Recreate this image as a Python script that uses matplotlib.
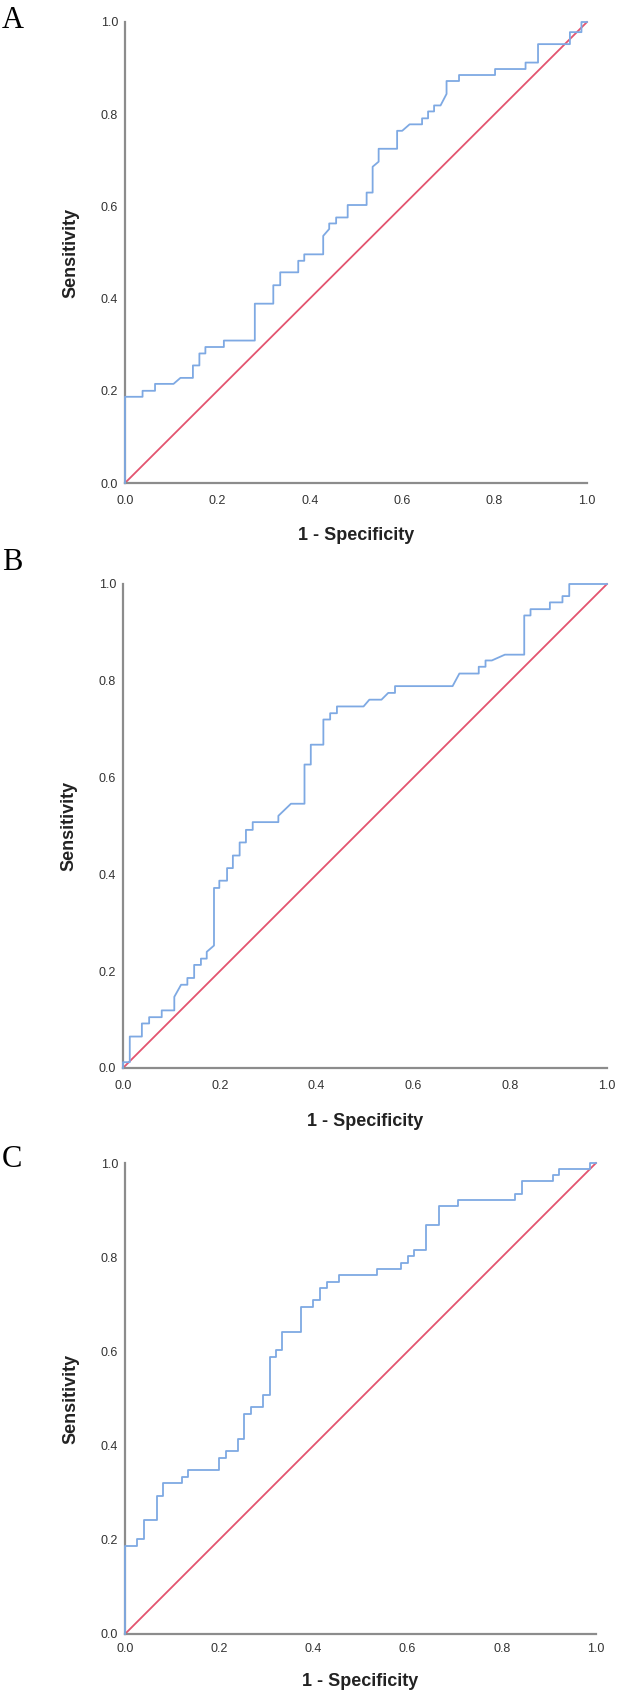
import matplotlib
matplotlib.use("Agg")
import matplotlib.pyplot as plt

# ROC curve vertices (1 - specificity, sensitivity)
fpr_a = [0, 0, 0.038, 0.038, 0.065, 0.065, 0.105, 0.12, 0.147, 0.147, 0.161, 0.161,
         0.174, 0.174, 0.214, 0.214, 0.281, 0.281, 0.321, 0.321, 0.336, 0.336, 0.375,
         0.375, 0.388, 0.388, 0.429, 0.429, 0.442, 0.442, 0.457, 0.457, 0.482, 0.482,
         0.523, 0.523, 0.536, 0.536, 0.549, 0.549, 0.589, 0.589, 0.60, 0.616, 0.643,
         0.643, 0.656, 0.656, 0.669, 0.669, 0.683, 0.696, 0.696, 0.723, 0.723, 0.801,
         0.801, 0.867, 0.867, 0.894, 0.894, 0.963, 0.963, 0.988, 0.988, 1.0]
tpr_a = [0, 0.187, 0.187, 0.20, 0.20, 0.215, 0.215, 0.228, 0.228, 0.255, 0.255, 0.281,
         0.281, 0.295, 0.295, 0.309, 0.309, 0.389, 0.389, 0.429, 0.429, 0.457, 0.457,
         0.482, 0.482, 0.496, 0.496, 0.536, 0.551, 0.563, 0.563, 0.576, 0.576, 0.603,
         0.603, 0.630, 0.630, 0.686, 0.697, 0.725, 0.725, 0.764, 0.764, 0.778, 0.778,
         0.791, 0.791, 0.806, 0.806, 0.819, 0.819, 0.844, 0.872, 0.872, 0.885, 0.885,
         0.898, 0.898, 0.912, 0.912, 0.952, 0.952, 0.978, 0.978, 1.0, 1.0]

fpr_b = [0, 0, 0.014, 0.014, 0.039, 0.039, 0.054, 0.054, 0.080, 0.080, 0.106, 0.106,
         0.120, 0.133, 0.133, 0.147, 0.147, 0.161, 0.161, 0.173, 0.173, 0.188, 0.188,
         0.199, 0.199, 0.215, 0.215, 0.227, 0.227, 0.241, 0.241, 0.254, 0.254, 0.268,
         0.268, 0.321, 0.321, 0.347, 0.375, 0.375, 0.388, 0.388, 0.414, 0.414, 0.428,
         0.428, 0.442, 0.442, 0.497, 0.509, 0.534, 0.548, 0.562, 0.562, 0.681, 0.695,
         0.735, 0.735, 0.749, 0.749, 0.762, 0.789, 0.829, 0.829, 0.842, 0.842, 0.882,
         0.882, 0.908, 0.908, 0.922, 0.922, 1.0]
tpr_b = [0, 0.012, 0.012, 0.065, 0.065, 0.092, 0.092, 0.105, 0.105, 0.119, 0.119, 0.147,
         0.172, 0.172, 0.186, 0.186, 0.213, 0.213, 0.226, 0.226, 0.240, 0.253, 0.372,
         0.372, 0.387, 0.387, 0.413, 0.413, 0.439, 0.439, 0.466, 0.466, 0.492, 0.492,
         0.508, 0.508, 0.521, 0.546, 0.546, 0.627, 0.627, 0.668, 0.668, 0.720, 0.720,
         0.733, 0.733, 0.747, 0.747, 0.761, 0.761, 0.775, 0.775, 0.789, 0.789, 0.815,
         0.815, 0.829, 0.829, 0.842, 0.842, 0.854, 0.854, 0.935, 0.935, 0.948, 0.948,
         0.962, 0.962, 0.975, 0.975, 1.0, 1.0]

fpr_c = [0, 0, 0.026, 0.026, 0.040, 0.040, 0.067, 0.067, 0.081, 0.081, 0.120, 0.120,
         0.134, 0.134, 0.200, 0.200, 0.214, 0.214, 0.240, 0.240, 0.253, 0.253, 0.268,
         0.268, 0.293, 0.293, 0.307, 0.307, 0.320, 0.320, 0.334, 0.334, 0.373, 0.373,
         0.399, 0.399, 0.414, 0.414, 0.428, 0.428, 0.454, 0.454, 0.534, 0.534, 0.587,
         0.587, 0.601, 0.601, 0.614, 0.614, 0.640, 0.640, 0.667, 0.667, 0.708, 0.708,
         0.828, 0.828, 0.842, 0.842, 0.908, 0.908, 0.922, 0.922, 0.987, 0.987, 1.0]
tpr_c = [0, 0.187, 0.187, 0.202, 0.202, 0.242, 0.242, 0.294, 0.294, 0.321, 0.321, 0.334,
         0.334, 0.348, 0.348, 0.374, 0.374, 0.388, 0.388, 0.415, 0.415, 0.468, 0.468,
         0.482, 0.482, 0.508, 0.508, 0.588, 0.588, 0.603, 0.603, 0.641, 0.641, 0.694,
         0.694, 0.709, 0.709, 0.735, 0.735, 0.748, 0.748, 0.762, 0.762, 0.775, 0.775,
         0.788, 0.788, 0.802, 0.802, 0.815, 0.815, 0.868, 0.868, 0.908, 0.908, 0.921,
         0.921, 0.935, 0.935, 0.961, 0.961, 0.975, 0.975, 0.988, 0.988, 1.0, 1.0]

ticks = [0.0, 0.2, 0.4, 0.6, 0.8, 1.0]
tick_labels = ["0.0", "0.2", "0.4", "0.6", "0.8", "1.0"]
panel_names = ["A", "B", "C"]

W, H = 618, 1693
fig = plt.figure(figsize=(W / 100, H / 100), dpi=100)

# axes boxes in pixels: left, top, right, bottom
boxes = [(125, 22, 587, 483), (123, 584, 607, 1068), (125, 1163, 596, 1634)]
xlabel_gap = [52, 53, 48]
xtick_pad = [8.5, 8.5, 6.5]
letter_base = [28, 570, 1167]
curves = [(fpr_a, tpr_a), (fpr_b, tpr_b), (fpr_c, tpr_c)]

for i, (l, t, r, b) in enumerate(boxes):
    ax = fig.add_axes([l / W, 1 - b / H, (r - l) / W, (b - t) / H])
    fpr, tpr = curves[i]
    ax.plot([0, 1], [0, 1], color="#e3546f", lw=1.3, clip_on=False, zorder=2)
    ax.plot(fpr, tpr, color="#7ea9e3", lw=1.3, clip_on=False, zorder=3)
    ax.set_xlim(0, 1)
    ax.set_ylim(0, 1)
    for s in ["top", "right"]:
        ax.spines[s].set_visible(False)
    for s in ["left", "bottom"]:
        ax.spines[s].set_color("#8c8c8c")
        ax.spines[s].set_linewidth(1.6)
    ax.set_xticks(ticks)
    ax.set_xticklabels(tick_labels, family="Liberation Sans")
    ax.set_yticks(ticks)
    ax.set_yticklabels(tick_labels, family="Liberation Sans")
    ax.tick_params(axis="x", length=0, pad=xtick_pad[i], labelsize=9, labelcolor="#333333")
    ax.tick_params(axis="y", length=0, pad=5, labelsize=9, labelcolor="#333333")
    ax.set_xlabel("1 - Specificity", family="Liberation Sans", fontweight="bold",
                  fontsize=13, color="#222222")
    ax.xaxis.set_label_coords(0.5, -xlabel_gap[i] / (b - t))
    ax.xaxis.label.set_va("center")
    ax.set_ylabel("Sensitivity", family="Liberation Sans", fontweight="bold",
                  fontsize=13, color="#222222")
    ax.yaxis.set_label_coords(-54 / (r - l), 0.5)
    ax.yaxis.label.set_va("center")
    fig.text(2 / W, 1 - letter_base[i] / H, panel_names[i], family="Liberation Serif",
             fontsize=22, ha="left", va="baseline")

fig.savefig("out.png", dpi=100)
